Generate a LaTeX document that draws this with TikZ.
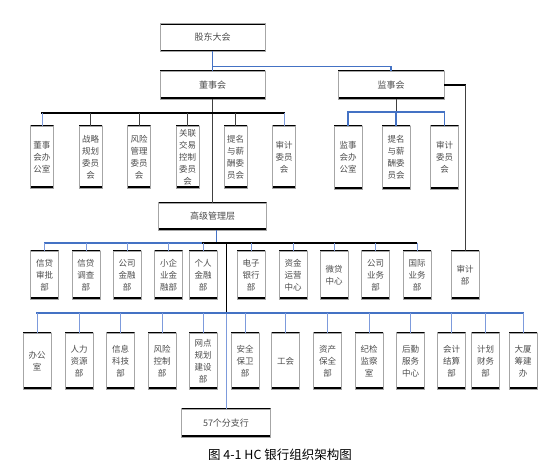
\documentclass[tikz,border=0pt]{standalone}
\usepackage{fontspec}
\newfontfamily\cjk{Noto Sans CJK SC}
\definecolor{linkblue}{RGB}{68,114,196}
\definecolor{stemblue}{RGB}{125,155,220}
\tikzset{
    orgchart/.style={
        x=1pt, y=-1pt,
        line cap=rect, line join=miter,
    },
    unitbox/.style={
        draw=gray!70, line width=.6pt, inner sep=0pt,
        align=center, text=black!70,
        font=\cjk\fontsize{8.5}{12}\selectfont,
        path picture={
            \draw[black, line width=3pt]
              (path picture bounding box.north west) -- (path picture bounding box.north east)
              (path picture bounding box.south west) -- (path picture bounding box.south east);
        },
    },
    widebox/.style={unitbox, minimum width=105pt, minimum height=28pt,
        font=\cjk\fontsize{9}{12}\selectfont},
    tallbox/.style={unitbox, minimum width=28pt, minimum height=#1},
    mainlink/.style={linkblue, line width=1.2pt},
    stemlink/.style={stemblue, line width=.7pt},
    darklink/.style={black!75, line width=.8pt},
}
\newcommand{\bus}[2]{(#1.north |- #2)}

\begin{document}
\begin{tikzpicture}[orgchart]
    \useasboundingbox (0,0) rectangle (542,470);
    % top levels
    \node[widebox] (gd) at (212.5,37.5) {股东大会};
    \node[widebox] (dsh) at (212.5,85) {董事会};
    \node[widebox, minimum width=106pt] (jsh) at (391,85) {监事会};
    \node[widebox, minimum width=108pt, minimum height=27pt] (gc) at (212.5,216.5) {高级管理层};
    \node[widebox, minimum width=89pt] (fh) at (226,423) {57个分支行};
    % committees
    \foreach \x/\t [count=\i] in {42/董事\\会办\\公室, 90.5/战略\\规划\\委员\\会,
        139/风险\\管理\\委员\\会, 187.5/关联\\交易\\控制\\委员\\会,
        235.5/提名\\与薪\\酬委\\员会, 284/审计\\委员\\会}
        \node[tallbox=62pt, minimum width=23pt] (d\i) at (\x,157) {\t};
    \foreach \x/\t [count=\i] in {348/监事\\会办\\公室, 396/提名\\与薪\\酬委\\员会, 444.5/审计\\委员\\会}
        \node[tallbox=63pt] (s\i) at (\x,157.5) {\t};
    % business departments
    \foreach \x/\t [count=\i] in {44.5/信贷\\审批\\部, 86/信贷\\调查\\部, 127/公司\\金融\\部,
        168.5/小企\\业金\\融部, 203/个人\\金融\\部, 251/电子\\银行\\部,
        293/资金\\运营\\中心, 334/微贷\\中心, 375.5/公司\\业务\\部, 417/国际\\业务\\部}
        \node[tallbox=48pt] (b\i) at (\x,275) {\t};
    \node[tallbox=48pt] (sjb) at (465,275) {审计\\部};
    % functional departments
    \foreach \x/\t [count=\i] in {37/办公\\室, 79/人力\\资源\\部, 120.5/信息\\科技\\部,
        162/风险\\控制\\部, 203/网点\\规划\\建设\\部, 245/安全\\保卫\\部, 285.5/工会,
        327.5/资产\\保全\\部, 369/纪检\\监察\\室, 410.5/后勤\\服务\\中心,
        451.5/会计\\结算\\部, 485.5/计划\\财务\\部, 523/大厦\\筹建\\办}
        \node[tallbox=56pt] (r\i) at (\x,361) {\t};

    \coordinate (dbus) at (0,113);
    \coordinate (jbus) at (0,112);
    \coordinate (gbus) at (0,243);
    \coordinate (rbus) at (0,313);

    % shareholders
    \draw[mainlink] (gd.south) -- (dsh.north);
    \draw[mainlink] (gd.south) -- ++(0,15) -| (jsh.north);
    % board
    \draw[darklink] (dsh.south) -- (gc.north);
    \draw[black, line width=1.5pt] \bus{d1}{dbus} -- \bus{d6}{dbus};
    \foreach \n in {d2,d3,d4,d5}
        \draw[darklink] \bus{\n}{dbus} -- (\n.north);
    \draw[stemlink] \bus{d1}{dbus} -- (d1.north);
    \draw[stemlink] \bus{d6}{dbus} -- (d6.north);
    % supervisors
    \draw[darklink] (jsh.south -| s2.north) -- \bus{s2}{jbus};
    \draw[mainlink] \bus{s1}{jbus} -- \bus{s3}{jbus};
    \foreach \n in {s1,s2,s3}
        \draw[mainlink] \bus{\n}{jbus} -- (\n.north);
    \draw[black, line width=1.4pt] (jsh.east) -- (jsh.east -| sjb.north);
    \draw[darklink] (jsh.east -| sjb.north) -- (sjb.north);
    % senior management
    \draw[mainlink] ([xshift=4pt]gc.south) -- ([xshift=4pt]gc.south |- gbus);
    \draw[mainlink] \bus{b1}{gbus} -- ([xshift=4pt]gc.south |- gbus);
    \draw[black, line width=1.2pt, densely dashed] \bus{b5}{gbus} -- \bus{b10}{gbus};
    \foreach \i in {1,...,10}
        \draw[stemlink] \bus{b\i}{gbus} -- (b\i.north);
    \draw[black, line width=.8pt] \bus{fh}{gbus} -- \bus{fh}{rbus};
    \draw[stemlink, line width=1pt] \bus{fh}{rbus} -- (fh.north);
    \draw[mainlink] \bus{r1}{rbus} -- \bus{r13}{rbus};
    \foreach \i in {1,...,13}
        \draw[stemlink] \bus{r\i}{rbus} -- (r\i.north);

    \node[font=\cjk\fontsize{12.5}{15}\selectfont] (cap) at (280,455) {图 4-1 HC 银行组织架构图};
\end{tikzpicture}
\end{document}
